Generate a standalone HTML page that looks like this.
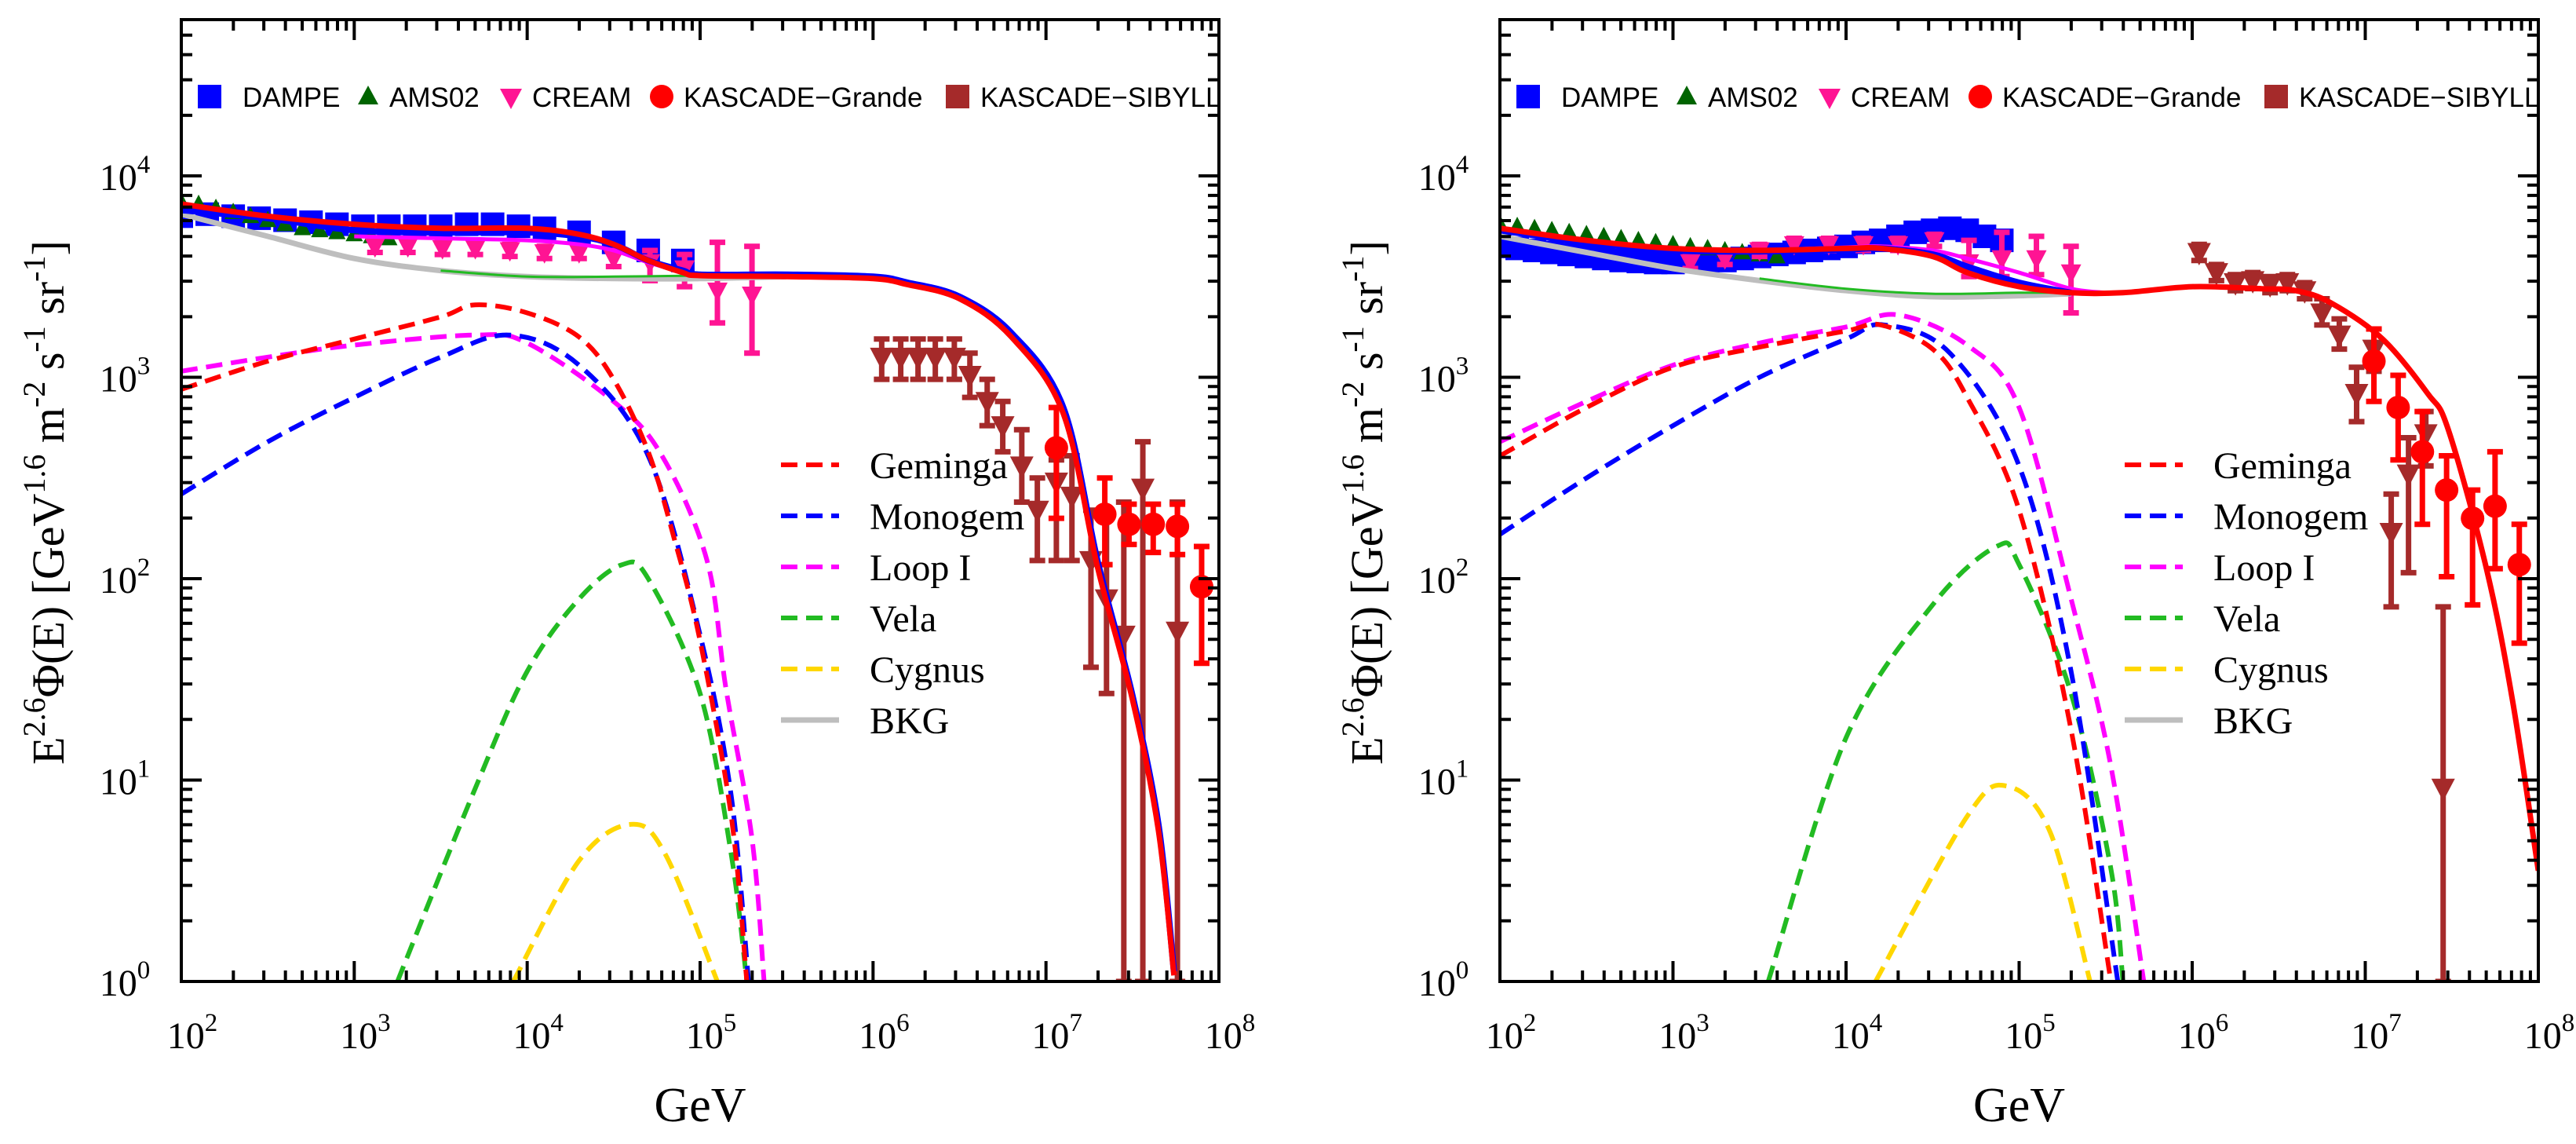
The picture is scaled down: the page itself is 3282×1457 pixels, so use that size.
<!DOCTYPE html>
<html><head><meta charset="utf-8"><style>
html,body{margin:0;padding:0;background:#fff;}
svg{display:block;}
text{font-family:"Liberation Serif",serif;}
.sans{font-family:"Liberation Sans",sans-serif;}
</style></head><body>
<svg id="fig" width="3282" height="1457" viewBox="0 0 3282 1457" xmlns="http://www.w3.org/2000/svg"></svg>
<script>
// ===== DATA (log10 E [GeV], log10 flux) =====
// ---- left panel ----
const L_totalRed_x=[2.0,2.5,3.0,3.5,4.0,4.3,4.5,4.7,4.9,5.0,5.5,6.0,6.2,6.5,6.8,7.1,7.3,7.5,7.65,7.74];
const L_totalRed_y=[3.86,3.80,3.76,3.74,3.74,3.71,3.66,3.58,3.52,3.505,3.50,3.49,3.46,3.39,3.20,2.82,2.05,1.40,0.75,0.03];
const L_totalBlue_y=[3.83,3.79,3.73,3.72,3.72,3.70,3.66,3.58,3.53,3.51,3.51,3.50,3.47,3.40,3.22,2.85,2.08,1.42,0.78,0.05];
const L_totalMag_x=[3.0,3.5,4.0,4.3,4.5,4.7,4.9];
const L_totalMag_y=[3.70,3.69,3.68,3.66,3.63,3.57,3.52];
const L_bkg_x=[2.0,2.5,3.0,3.5,4.0,4.5,5.0,5.5];
const L_bkg_y=[3.81,3.70,3.59,3.53,3.50,3.49,3.49,3.50];
const L_green_x=[3.5,4.0,4.5,5.0];
const L_green_y=[3.53,3.50,3.50,3.505];
const L_gem_x=[2.0,2.5,3.0,3.5,3.7,4.0,4.3,4.5,4.7,4.85,5.0,5.18,5.27];
const L_gem_y=[2.94,3.08,3.19,3.30,3.36,3.32,3.20,2.99,2.63,2.20,1.69,0.82,0.0];
const L_mon_x=[2.0,2.5,3.0,3.5,3.9,4.3,4.7,5.0,5.18,5.28];
const L_mon_y=[2.42,2.68,2.90,3.10,3.21,3.06,2.61,1.72,0.92,0.0];
const L_loop_x=[2.0,2.5,3.0,3.7,4.0,4.5,4.78,5.04,5.15,5.3,5.37];
const L_loop_y=[3.03,3.10,3.16,3.21,3.17,2.88,2.61,2.09,1.45,0.71,0.0];
const L_vela_x=[3.25,3.7,4.0,4.3,4.55,4.7,5.0,5.18,5.27];
const L_vela_y=[0.0,0.96,1.54,1.90,2.07,2.0,1.43,0.63,0.0];
const L_cyg_x=[3.92,4.3,4.6,4.8,5.1];
const L_cyg_y=[0.0,0.60,0.78,0.63,0.0];
const L_dampe_x=[2.0,2.15,2.3,2.45,2.6,2.75,2.9,3.05,3.2,3.35,3.5,3.65,3.8,3.95,4.1,4.3,4.5,4.7,4.9];
const L_dampe_y=[3.80,3.81,3.80,3.79,3.78,3.77,3.76,3.75,3.75,3.75,3.75,3.76,3.76,3.75,3.74,3.72,3.67,3.63,3.58];
const L_ams_x=[2.0,2.1,2.2,2.3,2.4,2.5,2.6,2.7,2.8,2.9,3.0,3.1,3.2];
const L_ams_y=[3.87,3.86,3.84,3.82,3.80,3.78,3.76,3.74,3.73,3.72,3.71,3.70,3.69];
const L_cream_x=[3.12,3.31,3.51,3.70,3.90,4.10,4.30,4.50,4.71,4.91,5.10,5.30];
const L_cream_y=[3.65,3.65,3.64,3.64,3.63,3.62,3.62,3.59,3.57,3.54,3.43,3.41];
const L_cream_hi=[3.68,3.68,3.67,3.67,3.66,3.65,3.65,3.63,3.63,3.61,3.67,3.65];
const L_cream_lo=[3.62,3.62,3.61,3.61,3.60,3.59,3.59,3.55,3.48,3.45,3.27,3.12];
const L_sib_x=[6.05,6.16,6.26,6.36,6.47,6.56,6.66,6.75,6.86,6.95,7.06,7.15,7.26,7.35,7.45,7.56,7.76];
const L_sib_y=[3.10,3.10,3.10,3.10,3.10,3.01,2.88,2.76,2.56,2.34,2.48,2.41,2.09,1.90,1.72,2.45,1.74];
const L_sib_hi=[3.19,3.19,3.19,3.19,3.19,3.12,2.99,2.88,2.74,2.50,2.59,2.61,2.34,2.30,2.38,2.68,2.38];
const L_sib_lo=[2.99,2.99,2.99,2.99,2.99,2.90,2.76,2.63,2.38,2.09,2.09,2.09,1.56,1.43,0.0,0.0,0.0];
const L_gr_x=[7.06,7.34,7.48,7.62,7.76,7.90];
const L_gr_y=[2.65,2.32,2.27,2.27,2.26,1.96];
const L_gr_hi=[2.85,2.50,2.37,2.37,2.37,2.16];
const L_gr_lo=[2.30,2.07,2.17,2.13,2.12,1.58];
// ---- right panel ----
const R_totalRed_x=[2.0,2.5,3.0,3.5,4.0,4.2,4.5,4.7,5.0,5.3,5.6,6.0,6.4,6.6,6.8,7.1,7.36,7.48,7.7,7.85,8.0];
const R_totalRed_y=[3.74,3.68,3.64,3.63,3.64,3.64,3.60,3.52,3.45,3.42,3.42,3.45,3.44,3.43,3.37,3.19,2.92,2.74,2.05,1.40,0.55];
const R_totalBlue_x=[2.0,2.5,3.0,3.5,4.0,4.2,4.5,4.7,5.0,5.3];
const R_totalBlue_y=[3.73,3.67,3.63,3.625,3.635,3.64,3.61,3.55,3.47,3.42];
const R_totalMag_x=[3.5,4.0,4.2,4.5,4.7,5.0,5.3,5.5];
const R_totalMag_y=[3.63,3.645,3.65,3.63,3.59,3.52,3.44,3.42];
const R_bkg_x=[2.0,2.5,3.0,3.5,4.0,4.5,5.0,5.3];
const R_bkg_y=[3.70,3.62,3.54,3.48,3.43,3.40,3.405,3.415];
const R_green_x=[3.5,4.0,4.5,5.0,5.3];
const R_green_y=[3.49,3.44,3.415,3.42,3.42];
const R_gem_x=[2.0,2.5,3.0,3.5,4.0,4.2,4.5,4.7,5.0,5.3,5.53];
const R_gem_y=[2.61,2.85,3.05,3.15,3.23,3.26,3.14,2.90,2.34,1.25,0.0];
const R_mon_x=[2.0,2.5,3.0,3.5,4.0,4.22,4.6,5.0,5.3,5.57];
const R_mon_y=[2.22,2.50,2.76,3.00,3.19,3.26,3.12,2.56,1.54,0.0];
const R_loop_x=[2.0,2.5,3.0,3.5,4.0,4.3,4.7,5.0,5.3,5.53,5.72];
const R_loop_y=[2.68,2.88,3.06,3.17,3.25,3.31,3.16,2.85,1.90,1.07,0.0];
const R_vela_x=[3.55,4.0,4.5,4.87,5.0,5.3,5.53,5.6];
const R_vela_y=[0.0,1.21,1.87,2.16,2.07,1.43,0.56,0.0];
const R_cyg_x=[4.17,4.7,4.93,5.18,5.41];
const R_cyg_y=[0.0,0.82,0.97,0.74,0.0];
const R_dampe_x=[2.0,2.1,2.2,2.3,2.4,2.5,2.6,2.7,2.8,2.9,3.0,3.1,3.2,3.3,3.4,3.5,3.6,3.7,3.8,3.9,4.0,4.1,4.2,4.3,4.4,4.5,4.6,4.7,4.8,4.9];
const R_dampe_y=[3.65,3.64,3.63,3.62,3.61,3.60,3.59,3.58,3.575,3.57,3.57,3.575,3.58,3.58,3.59,3.60,3.61,3.62,3.63,3.64,3.65,3.67,3.68,3.70,3.72,3.73,3.74,3.73,3.70,3.68];
const R_ams_x=[2.0,2.1,2.2,2.3,2.4,2.5,2.6,2.7,2.8,2.9,3.0,3.1,3.2,3.3,3.4,3.5,3.6];
const R_ams_y=[3.76,3.75,3.74,3.73,3.72,3.71,3.70,3.69,3.68,3.67,3.66,3.65,3.64,3.63,3.62,3.61,3.60];
const R_cream_x=[3.10,3.30,3.50,3.70,3.90,4.10,4.30,4.51,4.71,4.90,5.10,5.30];
const R_cream_y=[3.57,3.59,3.63,3.66,3.66,3.66,3.66,3.68,3.57,3.59,3.59,3.52];
const R_cream_hi=[3.60,3.62,3.66,3.69,3.69,3.69,3.69,3.71,3.68,3.72,3.70,3.65];
const R_cream_lo=[3.54,3.56,3.60,3.63,3.63,3.63,3.63,3.65,3.50,3.50,3.51,3.32];
const R_sib_x=[6.04,6.14,6.25,6.35,6.45,6.55,6.65,6.75,6.85,6.95,7.05,7.15,7.25,7.35,7.45];
const R_sib_y=[3.62,3.52,3.47,3.48,3.46,3.47,3.43,3.32,3.21,2.92,3.14,2.23,2.52,2.72,0.96];
const R_sib_hi=[3.66,3.56,3.51,3.52,3.50,3.51,3.47,3.39,3.29,3.05,3.24,2.42,2.70,2.83,1.86];
const R_sib_lo=[3.58,3.48,3.43,3.44,3.42,3.43,3.39,3.26,3.14,2.78,3.03,1.86,2.03,2.56,0.0];
const R_gr_x=[7.05,7.19,7.33,7.47,7.62,7.75,7.89];
const R_gr_y=[3.08,2.85,2.63,2.44,2.30,2.36,2.07];
const R_gr_hi=[3.24,3.01,2.83,2.61,2.44,2.63,2.27];
const R_gr_lo=[2.88,2.59,2.27,2.01,1.87,2.05,1.68];
const xTicks=[2,3,4,5,6,7,8];
const yTicks=[0,1,2,3,4];
const legendLines=["Geminga","Monogem","Loop I","Vela","Cygnus","BKG"];
const legendData=["DAMPE","AMS02","CREAM","KASCADE\u2212Grande","KASCADE\u2212SIBYLL"];

// ===== DRAWING =====
const NS="http://www.w3.org/2000/svg";
const svg=document.getElementById('fig');
const TOP=25,BOT=1250,YMAX=4.776;
const DASH='21,11';
function mk(tag,parent){const e=document.createElementNS(NS,tag);parent.appendChild(e);return e;}
function smooth(pts){
  let d="M"+pts[0][0].toFixed(1)+","+pts[0][1].toFixed(1);
  for(let i=0;i<pts.length-1;i++){
    const p0=pts[Math.max(i-1,0)],p1=pts[i],p2=pts[i+1],p3=pts[Math.min(i+2,pts.length-1)];
    const c1=[p1[0]+(p2[0]-p0[0])/6,p1[1]+(p2[1]-p0[1])/6];
    const c2=[p2[0]-(p3[0]-p1[0])/6,p2[1]-(p3[1]-p1[1])/6];
    d+="C"+c1[0].toFixed(1)+","+c1[1].toFixed(1)+" "+c2[0].toFixed(1)+","+c2[1].toFixed(1)+" "+p2[0].toFixed(1)+","+p2[1].toFixed(1);
  }
  return d;
}
function panel(id,X0,X1,D){
  const sx=v=>X0+(v-2)*(X1-X0)/6;
  const sy=v=>BOT-v*(BOT-TOP)/YMAX;
  const g=mk('g',svg);
  
  
  const cp=mk('clipPath',g);cp.setAttribute('id','clip-'+id);
  const cr=mk('rect',cp);cr.setAttribute('x',X0);cr.setAttribute('y',TOP);cr.setAttribute('width',X1-X0);cr.setAttribute('height',BOT-TOP);
  const plot=mk('g',g);plot.setAttribute('clip-path','url(#clip-'+id+')');
  
  
  function curve(xs,ys,color,w,dash,name){
    const p=mk('path',plot);
    p.setAttribute('d',smooth(xs.map((x,i)=>[sx(x),sy(ys[i])])));
    p.setAttribute('fill','none');p.setAttribute('stroke',color);p.setAttribute('stroke-width',w);
    if(dash)p.setAttribute('stroke-dasharray',dash);
    
    
  }
  function errs(xs,ys,hi,lo,color,name){
    xs.forEach((x,i)=>{
      const e=mk('path',plot);
      const X=sx(x),a=sy(hi[i]),b=sy(lo[i]);
      e.setAttribute('d',`M${X},${a}V${b}M${X-10},${a}H${X+10}M${X-10},${b}H${X+10}`);
      e.setAttribute('stroke',color);e.setAttribute('stroke-width',7);e.setAttribute('fill','none');
      
      
    });
  }
  function marks(xs,ys,shape,color,size,name){
    xs.forEach((x,i)=>{
      const X=sx(x),Y=sy(ys[i]);let m;
      if(shape==='sq'){m=mk('rect',plot);m.setAttribute('x',X-size/2);m.setAttribute('y',Y-size/2);m.setAttribute('width',size);m.setAttribute('height',size);}
      else if(shape==='ci'){m=mk('circle',plot);m.setAttribute('cx',X);m.setAttribute('cy',Y);m.setAttribute('r',size/2);}
      else if(shape==='up'){m=mk('polygon',plot);m.setAttribute('points',`${X},${Y-size*0.55} ${X-size/2},${Y+size*0.4} ${X+size/2},${Y+size*0.4}`);}
      else {m=mk('polygon',plot);m.setAttribute('points',`${X},${Y+size*0.55} ${X-size/2},${Y-size*0.4} ${X+size/2},${Y-size*0.4}`);}
      m.setAttribute('fill',color);
      
      
    });
  }
  marks(D.dx,D.dy,'sq','#0000ff',30,'dampe');
  marks(D.ax,D.ay,'up','#006400',22,'ams02');
  errs(D.cx,D.cy,D.chi,D.clo,'#ff1493','cream');
  marks(D.cx,D.cy,'dn','#ff1493',26,'cream');
  errs(D.sx_,D.sy_,D.shi,D.slo,'#a52a2a','kascade-sibyll');
  marks(D.sx_,D.sy_,'dn','#a52a2a',30,'kascade-sibyll');
  errs(D.gx,D.gy,D.ghi,D.glo,'#ff0000','kascade-grande');
  marks(D.gx,D.gy,'ci','#ff0000',30,'kascade-grande');
  curve(D.bkgx,D.bkgy,'#bebebe',7,null,'bkg-curve');
  curve(D.grx,D.gry,'#22bb22',3,null,'green-total-curve');
  curve(D.cygx,D.cygy,'#ffd700',6,DASH,'cygnus-curve');
  curve(D.velx,D.vely,'#22bb22',6,DASH,'vela-curve');
  curve(D.lpx,D.lpy,'#ff00ff',6,DASH,'loop-i-curve');
  curve(D.mnx,D.mny,'#0000ff',6,DASH,'monogem-curve');
  curve(D.gmx,D.gmy,'#ff0000',6,DASH,'geminga-curve');
  curve(D.mgx,D.mgy,'#ff00ff',5,null,'total-loop-i-curve');
  curve(D.tbx,D.tby,'#0000ff',8,null,'total-monogem-curve');
  curve(D.trx,D.try_,'#ff0000',7,null,'total-geminga-curve');
  const fr=mk('rect',g);fr.setAttribute('x',X0);fr.setAttribute('y',TOP);fr.setAttribute('width',X1-X0);fr.setAttribute('height',BOT-TOP);
  fr.setAttribute('fill','none');fr.setAttribute('stroke','#000');fr.setAttribute('stroke-width',4);
  
  
  let td="";
  for(let d=2;d<=8;d++){const X=sx(d);td+=`M${X},${BOT}v-26M${X},${TOP}v26`;
    if(d<8)for(let k=2;k<=9;k++){const Xm=sx(d+Math.log10(k));td+=`M${Xm},${BOT}v-14M${Xm},${TOP}v14`;}}
  for(let d=0;d<=4;d++){const Y=sy(d);td+=`M${X0},${Y}h26M${X1},${Y}h-26`;
    for(let k=2;k<=9;k++){const v=d+Math.log10(k);if(v>YMAX)break;const Ym=sy(v);td+=`M${X0},${Ym}h14M${X1},${Ym}h-14`;}}
  const tk=mk('path',g);tk.setAttribute('d',td);tk.setAttribute('stroke','#000');tk.setAttribute('stroke-width',4);
  
  
  xTicks.forEach(t=>{
    const tx=mk('text',g);tx.setAttribute('x',sx(t)+14);tx.setAttribute('y',1335);tx.setAttribute('text-anchor','middle');tx.setAttribute('font-size',48);
    tx.innerHTML=`10<tspan dy="-22" font-size="33">${t}</tspan>`;
    
    
  });
  yTicks.forEach(t=>{
    const tx=mk('text',g);tx.setAttribute('x',X0-72);tx.setAttribute('y',sy(t)+18);tx.setAttribute('text-anchor','middle');tx.setAttribute('font-size',48);
    tx.innerHTML=`10<tspan dy="-22" font-size="33">${t}</tspan>`;
    
    
  });
  const xt=mk('text',g);xt.setAttribute('x',(X0+X1)/2);xt.setAttribute('y',1428);xt.setAttribute('text-anchor','middle');xt.setAttribute('font-size',62);xt.textContent='GeV';
  
  
  const yt=mk('text',g);yt.setAttribute('transform',`translate(${X0-150},640) rotate(-90)`);yt.setAttribute('text-anchor','middle');yt.setAttribute('font-size',58);
  yt.innerHTML='E<tspan dy="-24" font-size="40">2.6</tspan><tspan dy="24">\u03A6(E) [GeV</tspan><tspan dy="-24" font-size="40">1.6</tspan><tspan dy="24"> m</tspan><tspan dy="-24" font-size="40">-2</tspan><tspan dy="24"> s</tspan><tspan dy="-24" font-size="40">-1</tspan><tspan dy="24"> sr</tspan><tspan dy="-24" font-size="40">-1</tspan><tspan dy="24">]</tspan>';
  
  
  const lg=mk('g',g);
  
  
  const offs=[[36,78,'sq','#0000ff'],[238,265,'up','#006400'],[420,447,'dn','#ff1493'],[612,640,'ci','#ff0000'],[989,1018,'sq','#a52a2a']];
  legendData.forEach((name,i)=>{
    const [mx,tx0,shape,col]=offs[i];const X=X0+mx,Y=123;let m;
    if(shape==='sq'){m=mk('rect',lg);m.setAttribute('x',X-15);m.setAttribute('y',Y-15);m.setAttribute('width',30);m.setAttribute('height',30);}
    else if(shape==='ci'){m=mk('circle',lg);m.setAttribute('cx',X);m.setAttribute('cy',Y);m.setAttribute('r',15);}
    else if(shape==='up'){m=mk('polygon',lg);m.setAttribute('points',`${X},${Y-14} ${X-13},${Y+10} ${X+13},${Y+10}`);}
    else {m=mk('polygon',lg);m.setAttribute('points',`${X},${Y+16} ${X-14},${Y-10} ${X+14},${Y-10}`);}
    m.setAttribute('fill',col);
    
    
    const t=mk('text',lg);t.setAttribute('x',X0+tx0);t.setAttribute('y',Y+13);t.setAttribute('font-size',35);t.setAttribute('class','sans');t.textContent=name;
    
    
  });
  const ll=mk('g',g);
  
  
  const cols=['#ff0000','#0000ff','#ff00ff','#22bb22','#ffd700','#bebebe'];
  legendLines.forEach((name,i)=>{
    const Y=592+i*65;
    const l=mk('line',ll);l.setAttribute('x1',X0+D.lgx);l.setAttribute('x2',X0+D.lgx+74);l.setAttribute('y1',Y);l.setAttribute('y2',Y);
    l.setAttribute('stroke',cols[i]);l.setAttribute('stroke-width',i===5?7:6);if(i<5)l.setAttribute('stroke-dasharray',DASH);
    
    
    const t=mk('text',ll);t.setAttribute('x',X0+D.lgx+113);t.setAttribute('y',Y+17);t.setAttribute('font-size',48);t.textContent=name;
    
    
  });
}
panel('left-panel',231,1553,{dx:L_dampe_x,dy:L_dampe_y,ax:L_ams_x,ay:L_ams_y,cx:L_cream_x,cy:L_cream_y,chi:L_cream_hi,clo:L_cream_lo,
 sx_:L_sib_x,sy_:L_sib_y,shi:L_sib_hi,slo:L_sib_lo,gx:L_gr_x,gy:L_gr_y,ghi:L_gr_hi,glo:L_gr_lo,
 bkgx:L_bkg_x,bkgy:L_bkg_y,grx:L_green_x,gry:L_green_y,cygx:L_cyg_x,cygy:L_cyg_y,velx:L_vela_x,vely:L_vela_y,lpx:L_loop_x,lpy:L_loop_y,
 mnx:L_mon_x,mny:L_mon_y,gmx:L_gem_x,gmy:L_gem_y,mgx:L_totalMag_x,mgy:L_totalMag_y,tbx:L_totalRed_x,tby:L_totalBlue_y,trx:L_totalRed_x,try_:L_totalRed_y,lgx:764});
panel('right-panel',1911,3234,{dx:R_dampe_x,dy:R_dampe_y,ax:R_ams_x,ay:R_ams_y,cx:R_cream_x,cy:R_cream_y,chi:R_cream_hi,clo:R_cream_lo,
 sx_:R_sib_x,sy_:R_sib_y,shi:R_sib_hi,slo:R_sib_lo,gx:R_gr_x,gy:R_gr_y,ghi:R_gr_hi,glo:R_gr_lo,
 bkgx:R_bkg_x,bkgy:R_bkg_y,grx:R_green_x,gry:R_green_y,cygx:R_cyg_x,cygy:R_cyg_y,velx:R_vela_x,vely:R_vela_y,lpx:R_loop_x,lpy:R_loop_y,
 mnx:R_mon_x,mny:R_mon_y,gmx:R_gem_x,gmy:R_gem_y,mgx:R_totalMag_x,mgy:R_totalMag_y,tbx:R_totalBlue_x,tby:R_totalBlue_y,trx:R_totalRed_x,try_:R_totalRed_y,lgx:796});
</script>
</body></html>
